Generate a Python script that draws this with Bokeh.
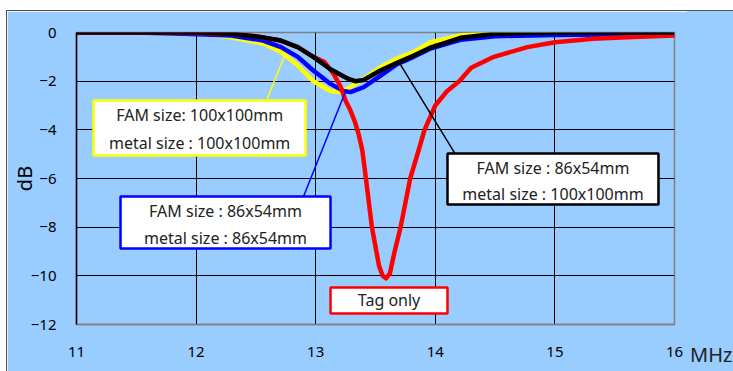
from bokeh.plotting import figure
from bokeh.layouts import row
from bokeh.models import Range1d, FixedTicker, BoxAnnotation, Label, ColumnDataSource, Div
from bokeh.embed import file_html
from bokeh.resources import INLINE

# ---- data (MHz, dB) ----
tag_x = [11.0, 11.5, 12.0, 12.3, 12.5, 12.7, 12.85, 12.98, 13.07, 13.15, 13.21, 13.25, 13.29,
         13.33, 13.36, 13.39, 13.42, 13.47, 13.53, 13.56, 13.59, 13.62, 13.66, 13.71, 13.75,
         13.79, 13.86, 13.91, 14.0, 14.1, 14.2, 14.3, 14.49, 14.77, 15.0, 15.32, 15.6, 16.0]
tag_y = [0.0, 0.0, -0.02, -0.05, -0.15, -0.33, -0.6, -1.0, -1.2, -1.7, -2.25, -2.8, -3.2,
         -3.7, -4.2, -4.85, -6.0, -8.0, -9.6, -10.0, -10.1, -9.9, -9.0, -8.0, -7.0,
         -6.0, -4.85, -4.0, -3.0, -2.4, -2.0, -1.45, -1.0, -0.6, -0.4, -0.26, -0.2, -0.12]

fam100_x = [11.0, 11.5, 12.0, 12.29, 12.56, 12.71, 12.85, 12.98, 13.07, 13.12, 13.21, 13.27,
            13.40, 13.54, 13.68, 13.82, 13.96, 14.21, 14.5, 14.8, 16.0]
fam100_y = [0.0, 0.0, -0.03, -0.2, -0.45, -0.8, -1.35, -2.0, -2.25, -2.4, -2.45, -2.3,
            -1.9, -1.43, -1.07, -0.8, -0.4, -0.12, -0.03, 0.0, 0.0]

fam86_x = [11.0, 11.5, 11.9, 12.29, 12.56, 12.71, 12.85, 12.98, 13.12, 13.23, 13.29, 13.40,
           13.54, 13.68, 13.82, 13.96, 14.21, 14.5, 15.0, 15.5, 16.0]
fam86_y = [0.0, 0.0, -0.05, -0.12, -0.33, -0.6, -1.0, -1.56, -2.1, -2.4, -2.45, -2.25,
           -1.78, -1.3, -1.0, -0.66, -0.3, -0.15, -0.1, -0.08, -0.07]

fam86m100_x = [11.0, 11.5, 12.0, 12.29, 12.56, 12.71, 12.85, 12.98, 13.12, 13.27, 13.33, 13.40,
               13.54, 13.68, 13.82, 13.96, 14.21, 14.49, 14.8, 15.5, 16.0]
fam86m100_y = [0.0, 0.0, 0.0, -0.05, -0.2, -0.33, -0.6, -1.0, -1.5, -1.9, -2.0, -1.95,
               -1.56, -1.25, -0.95, -0.62, -0.22, -0.06, -0.01, 0.0, 0.0]

x_ticks = [11, 12, 13, 14, 15, 16]
y_ticks = [0, -2, -4, -6, -8, -10, -12]

BG = "#99CCFF"
FONT = "Noto Sans"

p = figure(width=680, height=360, output_backend="svg", toolbar_location=None,
           x_range=Range1d(11, 16), y_range=Range1d(-12, 0))
p.min_border_left = 69
p.min_border_right = 13
p.min_border_top = 21
p.min_border_bottom = 47
p.background_fill_color = BG
p.border_fill_color = BG
p.outline_line_color = "#808080"
p.outline_line_width = 1.5

p.xaxis.ticker = FixedTicker(ticks=x_ticks)
p.yaxis.ticker = FixedTicker(ticks=y_ticks)
p.xgrid.ticker = FixedTicker(ticks=[12, 13, 14, 15])
p.ygrid.ticker = FixedTicker(ticks=[-2, -4, -6, -8, -10])
p.grid.grid_line_color = "black"
p.grid.grid_line_width = 1
p.grid.grid_line_alpha = 1.0

for ax in (p.xaxis[0], p.yaxis[0]):
    ax.major_tick_line_color = None
    ax.minor_tick_line_color = None
    ax.major_label_text_font = FONT
    ax.major_label_text_font_size = "15px"
    ax.major_label_text_color = "black"
p.xaxis.axis_line_color = "#808080"
p.xaxis.axis_line_width = 1.5
p.xaxis.major_label_standoff = 16
p.yaxis.axis_line_color = "black"
p.yaxis.axis_line_width = 1.5
p.yaxis.major_label_standoff = 14
p.yaxis.axis_label = "dB"
p.yaxis.axis_label_text_font = FONT
p.yaxis.axis_label_text_font_size = "20px"
p.yaxis.axis_label_text_font_style = "normal"
p.yaxis.axis_label_text_color = "black"
p.yaxis.axis_label_standoff = -10

lw = 4.5
p.line(fam100_x, fam100_y, line_color="#FFFF00", line_width=lw, line_join="round")
p.line(fam86_x, fam86_y, line_color="#0000FF", line_width=lw, line_join="round")
p.line(tag_x, tag_y, line_color="#FF0000", line_width=lw, line_join="round")
p.line(fam86m100_x, fam86m100_y, line_color="#000000", line_width=lw, line_join="round")

# leader lines
lead = ColumnDataSource(dict(
    x0=[12.589, 12.898, 14.169], y0=[-2.795, -6.74, -5.01],
    x1=[12.747, 13.249, 13.692], y1=[-0.863, -2.425, -1.19],
    c=["#FFFF00", "#0000FF", "#000000"]))
p.segment("x0", "y0", "x1", "y1", source=lead, line_color="c", line_width=1.5)

def callout(left, right, top, bottom, color, lines, ys, cx):
    p.add_layout(BoxAnnotation(left=left, right=right, top=top, bottom=bottom,
                               fill_color="white", fill_alpha=1.0,
                               line_color=color, line_width=2.5, line_alpha=1.0))
    for t, yy in zip(lines, ys):
        p.add_layout(Label(x=cx, y=yy, text=t, text_align="center", text_baseline="middle",
                           text_font=FONT, text_font_size="16px", text_color="#222222"))

callout(11.142, 12.915, -2.795, -5.055, "#FFFF00",
        ["FAM size: 100x100mm", "metal size : 100x100mm"], [-3.41, -4.56], 12.03)
callout(11.368, 13.124, -6.74, -8.88, "#0000FF",
        ["FAM size : 86x54mm", "metal size : 86x54mm"], [-7.32, -8.43], 12.246)
callout(14.102, 15.866, -4.973, -7.07, "#000000",
        ["FAM size : 86x54mm", "metal size : 100x100mm"], [-5.55, -6.62], 14.984)
callout(13.124, 14.102, -10.48, -11.55, "#FF0000", ["Tag only"], [-11.01], 13.613)

# unit label to the right of the plot
unit = Div(text=('<div style="padding-top:334px;padding-left:3px;font-family:\'Noto Sans\';'
                 'font-size:20px;line-height:20px;color:#222222;white-space:nowrap">MHz</div>'),
           width=46, height=360, margin=0,
           styles={"background-color": BG, "overflow": "hidden"})

layout = row(p, unit, spacing=0)
layout.styles = {"margin-left": "6px", "margin-top": "10px",
                 "border-left": "1px solid #505050", "border-top": "1px solid #505050"}

open("out.html", "w").write(file_html(layout, INLINE))
